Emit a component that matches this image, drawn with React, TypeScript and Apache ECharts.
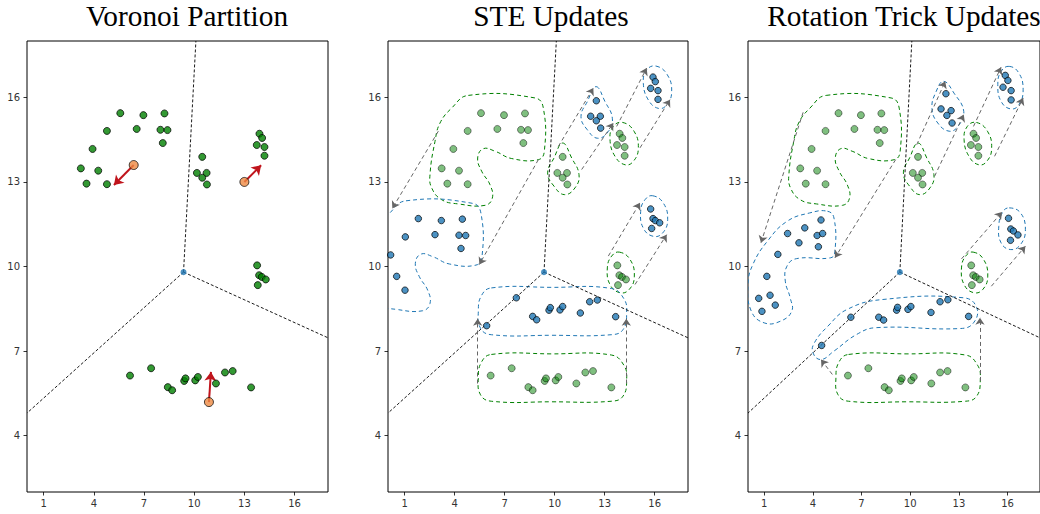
import React, { useEffect, useRef } from "react";
import * as echarts from "echarts";

const X_TICKS = [1, 4, 7, 10, 13, 16];
const Y_TICKS = [4, 7, 10, 13, 16];
const TITLES = ["Voronoi Partition", "STE Updates", "Rotation Trick Updates"];
const TITLE_X = [187, 551, 904];

// original points (panel 1 solid, panels 2-3 faded)
const greenPts = [
  [5.58, 15.44], [6.96, 15.37], [8.22, 15.43], [4.78, 14.81], [6.56, 14.88], [7.98, 14.85], [8.4, 14.84],
  [8.12, 14.38], [3.92, 14.17], [3.22, 13.48], [4.26, 13.4], [3.56, 12.94], [4.78, 12.92],
  [10.48, 13.89], [10.16, 13.32], [10.74, 13.32], [10.48, 13.15], [10.76, 12.91],
  [13.9, 14.71], [14.06, 14.56], [13.74, 14.31], [14.2, 14.24], [14.2, 13.93],
  [13.76, 10.04], [13.88, 9.69], [14.04, 9.63], [14.28, 9.54], [13.8, 9.34],
  [6.16, 6.13], [7.42, 6.39], [8.42, 5.72], [8.68, 5.61], [9.4, 5.94], [9.48, 6.03], [10.06, 5.96],
  [10.22, 6.08], [11.3, 5.85], [11.84, 6.24], [12.3, 6.29], [13.4, 5.71],
];

const codewords = [[6.38, 13.6], [13.0, 13.0], [10.88, 5.19]];
const codewordArrows = [
  [[6.38, 13.6], [5.2, 12.89]],
  [[13.0, 13.0], [14.0, 13.59]],
  [[10.88, 5.19], [11.0, 6.26]],
];
const vertex = [[9.36, 9.8]];
const voronoiEdges = [
  [[9.36, 9.8], [10.1, 18]],
  [[9.36, 9.8], [0, 4.8]],
  [[9.36, 9.8], [18, 7.47]],
];

// STE-updated points
const stePts = [
  [0.16, 10.41], [0.52, 9.65], [1.02, 9.16], [1.04, 11.05], [1.82, 11.7], [3.2, 11.63], [2.82, 11.13],
  [4.46, 11.68], [4.26, 11.11], [4.66, 11.1], [4.38, 10.64],
  [12.5, 15.88], [12.16, 15.33], [12.74, 15.33], [12.5, 15.17], [12.76, 14.91],
  [15.9, 16.72], [16.04, 16.56], [15.76, 16.32], [16.2, 16.24], [16.2, 15.93],
  [15.76, 12.04], [15.9, 11.7], [16.04, 11.63], [16.3, 11.55], [15.82, 11.35],
  [5.92, 7.9], [7.7, 8.89], [8.68, 8.23], [8.92, 8.11], [9.66, 8.45], [9.74, 8.54], [10.32, 8.46],
  [10.48, 8.58], [11.54, 8.35], [12.1, 8.75], [12.56, 8.81], [13.66, 8.22],
];

// Rotation-trick-updated points
const rotPts = [
  [4.5, 11.65], [3.5, 11.37], [2.44, 11.17], [3.14, 10.84], [4.26, 11.1], [4.6, 11.17], [4.34, 10.7],
  [1.84, 10.43], [1.16, 9.65], [0.66, 8.87], [1.36, 8.98], [1.68, 8.63], [0.86, 8.41],
  [12.2, 16.13], [11.9, 15.59], [12.52, 15.53], [12.26, 15.36], [12.58, 15.09],
  [15.86, 16.78], [16.02, 16.6], [15.72, 16.36], [16.22, 16.24], [16.22, 15.91],
  [16.06, 11.71], [16.2, 11.33], [16.36, 11.26], [16.64, 11.12], [16.18, 10.93],
  [4.54, 7.2], [6.34, 8.2], [8.06, 8.2], [8.36, 8.1], [9.16, 8.45], [9.22, 8.55], [9.86, 8.48],
  [10.04, 8.58], [11.28, 8.37], [11.84, 8.75], [12.32, 8.82], [13.6, 8.23],
];

// dashed cluster outlines
const greenBlob1 = [[4.82, 16.07], [8.82, 15.98], [9.32, 15.62], [9.38, 14.09], [9.02, 13.79], [7.42, 13.83], [6.42, 14.09], [5.72, 14.18], [5.38, 13.85], [5.62, 13.38], [6.12, 12.9], [6.26, 12.43], [5.82, 12.17], [4.22, 12.22], [3.22, 12.37], [2.62, 12.79], [2.52, 13.26], [2.82, 14.44], [3.12, 15.09], [3.82, 15.62]];
const greenBlob2 = [[10.48, 14.38], [11.02, 13.85], [11.46, 13.26], [11.22, 12.79], [10.58, 12.55], [9.96, 12.85], [9.58, 13.32], [9.96, 13.85]];
const greenBlob3 = [[14.08, 15.11], [14.76, 14.8], [15.02, 14.2], [14.72, 13.73], [14.22, 13.61], [13.62, 13.91], [13.32, 14.5], [13.52, 14.97]];
const greenBlob4 = [[13.88, 10.51], [14.52, 10.25], [14.78, 9.66], [14.48, 9.19], [13.92, 9.07], [13.32, 9.36], [13.16, 9.95], [13.42, 10.37]];
const greenBlob5 = [[6.2, 6.88], [9.8, 6.9], [13.4, 6.86], [14.15, 6.5], [14.32, 6.0], [14.1, 5.4], [13.4, 5.22], [9.8, 5.2], [6.2, 5.22], [5.55, 5.45], [5.42, 6.05], [5.6, 6.6]];

const steBlob1 = [[1.08, 12.33], [5.08, 12.24], [5.58, 11.88], [5.64, 10.35], [5.28, 10.05], [3.68, 10.09], [2.68, 10.35], [1.98, 10.44], [1.64, 10.11], [1.88, 9.64], [2.38, 9.16], [2.52, 8.69], [2.08, 8.43], [0.48, 8.48], [-0.52, 8.63], [-1.12, 9.05], [-1.22, 9.52], [-0.92, 10.7], [-0.62, 11.35], [0.08, 11.88]];
const steBlob2 = [[12.48, 16.38], [13.02, 15.85], [13.46, 15.26], [13.22, 14.79], [12.58, 14.55], [11.96, 14.85], [11.58, 15.32], [11.96, 15.85]];
const steBlob3 = [[16.08, 17.11], [16.76, 16.8], [17.02, 16.2], [16.72, 15.73], [16.22, 15.61], [15.62, 15.91], [15.32, 16.5], [15.52, 16.97]];
const steBlob4 = [[15.88, 12.51], [16.52, 12.25], [16.78, 11.66], [16.48, 11.19], [15.92, 11.07], [15.32, 11.36], [15.16, 11.95], [15.42, 12.37]];
const steBlob5 = [[6.2, 9.24], [9.8, 9.26], [13.4, 9.22], [14.15, 8.86], [14.32, 8.36], [14.1, 7.76], [13.4, 7.58], [9.8, 7.56], [6.2, 7.58], [5.55, 7.81], [5.42, 8.41], [5.6, 8.96]];

const rotBlob1 = [[4.9, 11.96], [5.3, 11.72], [5.36, 10.54], [5.1, 10.31], [3.0, 10.28], [2.4, 10.01], [2.3, 9.48], [2.6, 8.89], [2.7, 8.42], [2.0, 8.06], [1.0, 8.0], [0.2, 8.42], [0.0, 9.36], [0.3, 10.07], [1.2, 10.9], [2.4, 11.6], [3.8, 11.9]];
const rotBlob2 = [[12.06, 16.57], [12.7, 16.15], [13.3, 15.5], [12.94, 14.97], [12.4, 14.8], [11.7, 15.09], [11.34, 15.62], [11.6, 16.21]];
const rotBlob3 = [[16.1, 17.1], [16.7, 16.86], [16.96, 16.27], [16.7, 15.74], [16.2, 15.59], [15.6, 15.86], [15.4, 16.45], [15.6, 16.92]];
const rotBlob4 = [[16.1, 12.08], [16.8, 11.9], [17.1, 11.31], [16.8, 10.78], [16.2, 10.6], [15.6, 10.84], [15.46, 11.43], [15.7, 11.93]];
const rotBlob5 = [[4.1, 7.3], [4.92, 7.88], [6.12, 8.48], [8.32, 8.83], [13.3, 8.89], [14.1, 8.54], [13.9, 8.0], [13.1, 7.8], [7.9, 7.83], [6.7, 7.59], [5.3, 7.0], [4.5, 6.7], [4.0, 6.94]];

const steArrows = [
  [[3.02, 14.8], [0.26, 12.06]],
  [[9.02, 13.79], [5.48, 10.07]],
  [[10.22, 14.26], [12.32, 16.33]],
  [[11.62, 13.44], [13.52, 15.09]],
  [[13.72, 14.97], [15.52, 17.04]],
  [[15.12, 14.21], [16.92, 15.92]],
  [[13.22, 10.37], [15.12, 12.26]],
  [[14.82, 9.36], [16.72, 11.13]],
  [[5.38, 5.85], [5.38, 8.15]],
  [[14.3, 5.85], [14.3, 8.15]],
];
const rotArrows = [
  [[3.4, 15.47], [0.8, 10.84]],
  [[9.1, 13.79], [5.36, 10.31]],
  [[10.4, 14.32], [12.16, 16.57]],
  [[11.5, 13.2], [13.3, 15.39]],
  [[13.9, 14.97], [15.6, 17.07]],
  [[15.2, 13.91], [16.96, 15.98]],
  [[13.16, 10.27], [15.66, 11.93]],
  [[15.0, 9.3], [17.1, 10.72]],
  [[5.2, 6.17], [4.5, 6.7]],
  [[14.3, 5.94], [14.3, 8.18]],
];

const GREEN = "#008000";
const BLUE = "#1f77b4";

const GRIDS = [
  { left: 27, top: 41, width: 301, height: 451 },
  { left: 388, top: 41, width: 300, height: 451 },
  { left: 748, top: 41, width: 301, height: 451 },
];

function blobSeries(blobs: number[][][], color: string, idx: number) {
  return {
    type: "custom",
    xAxisIndex: idx,
    yAxisIndex: idx,
    clip: true,
    silent: true,
    z: 2,
    data: blobs.map((b) => b[0]),
    renderItem: (params: any, api: any) => {
      const pts = blobs[params.dataIndex].map((p) => api.coord(p));
      return {
        type: "polygon",
        shape: { points: pts, smooth: 0.45 },
        style: { fill: "none", stroke: color, lineWidth: 1, lineDash: [4, 3] },
      };
    },
  };
}

function linesSeries(segs: number[][][], idx: number, color: string, width: number, dash: any, arrow: boolean, size = 8) {
  return {
    type: "lines",
    coordinateSystem: "cartesian2d",
    xAxisIndex: idx,
    yAxisIndex: idx,
    silent: true,
    z: 3,
    symbol: arrow ? ["none", "arrow"] : ["none", "none"],
    symbolSize: size,
    data: segs.map((s) => ({ coords: s })),
    lineStyle: { color, width, type: dash, opacity: 1 },
  };
}

function scatter(data: number[][], idx: number, size: number, itemStyle: any, z = 5) {
  return { type: "scatter", xAxisIndex: idx, yAxisIndex: idx, data, symbolSize: size, itemStyle, z, silent: true };
}

export default function App() {
  const ref = useRef<HTMLDivElement>(null);
  useEffect(() => {
    document.body.style.margin = "0";
    const chart = echarts.init(ref.current!, null, { renderer: "svg" });
    const xAxes = GRIDS.map((_, i) => ({
      gridIndex: i,
      type: "value",
      min: 0,
      max: 18,
      axisLine: { show: false },
      splitLine: { show: false },
      axisTick: { show: true, inside: false, length: 3.5, customValues: X_TICKS, lineStyle: { color: "#000", width: 0.8 } },
      axisLabel: { customValues: X_TICKS, color: "#333", fontSize: 10, fontFamily: "DejaVu Sans", margin: 6 },
    }));
    const yAxes = GRIDS.map((_, i) => ({
      gridIndex: i,
      type: "value",
      min: 2,
      max: 18,
      axisLine: { show: false },
      splitLine: { show: false },
      axisTick: { show: true, inside: false, length: 3.5, customValues: Y_TICKS, lineStyle: { color: "#000", width: 0.8 } },
      axisLabel: { customValues: Y_TICKS, color: "#333", fontSize: 10, fontFamily: "DejaVu Sans", margin: 7 },
    }));
    const faded = { color: GREEN, borderColor: "#000", borderWidth: 0.9, opacity: 0.5 };
    const blueStyle = { color: BLUE, borderColor: "#000", borderWidth: 0.9 };
    const vDash = [3, 2];
    const series: any[] = [
      // panel 1
      linesSeries(voronoiEdges, 0, "#000", 0.9, vDash, false),
      scatter(greenPts, 0, 7, { color: GREEN, borderColor: "#000", borderWidth: 0.9 }),
      linesSeries(codewordArrows, 0, "#c0141c", 2, "solid", true, 9),
      scatter(codewords, 0, 9, { color: "#ee8a42", borderColor: "#000", borderWidth: 0.9 }, 6),
      scatter(vertex, 0, 6, { color: BLUE }, 6),
      // panel 2
      linesSeries(voronoiEdges, 1, "#000", 0.9, vDash, false),
      blobSeries([greenBlob1, greenBlob2, greenBlob3, greenBlob4, greenBlob5], GREEN, 1),
      blobSeries([steBlob1, steBlob2, steBlob3, steBlob4, steBlob5], BLUE, 1),
      linesSeries(steArrows, 1, "#666", 1, [4, 3], true, 7),
      scatter(greenPts, 1, 7, faded),
      scatter(stePts, 1, 6.5, blueStyle),
      scatter(vertex, 1, 6, { color: BLUE }, 6),
      // panel 3
      linesSeries(voronoiEdges, 2, "#000", 0.9, vDash, false),
      blobSeries([greenBlob1, greenBlob2, greenBlob3, greenBlob4, greenBlob5], GREEN, 2),
      blobSeries([rotBlob1, rotBlob2, rotBlob3, rotBlob4, rotBlob5], BLUE, 2),
      linesSeries(rotArrows, 2, "#666", 1, [4, 3], true, 7),
      scatter(greenPts, 2, 7, faded),
      scatter(rotPts, 2, 6.5, blueStyle),
      scatter(vertex, 2, 6, { color: BLUE }, 6),
    ];
    chart.setOption({
      animation: false,
      grid: GRIDS.map((g) => ({ ...g, show: true, borderColor: "#000", borderWidth: 1, backgroundColor: "transparent" })),
      xAxis: xAxes,
      yAxis: yAxes,
      graphic: TITLES.map((t, i) => ({
        type: "text",
        x: TITLE_X[i],
        y: 16,
        style: {
          text: t,
          fontFamily: "Liberation Serif",
          fontSize: 29.3,
          fill: "#000",
          align: "center",
          verticalAlign: "middle",
        },
      })),
      series,
    });
    return () => chart.dispose();
  }, []);
  return <div ref={ref} style={{ width: 1040, height: 514 }} />;
}
